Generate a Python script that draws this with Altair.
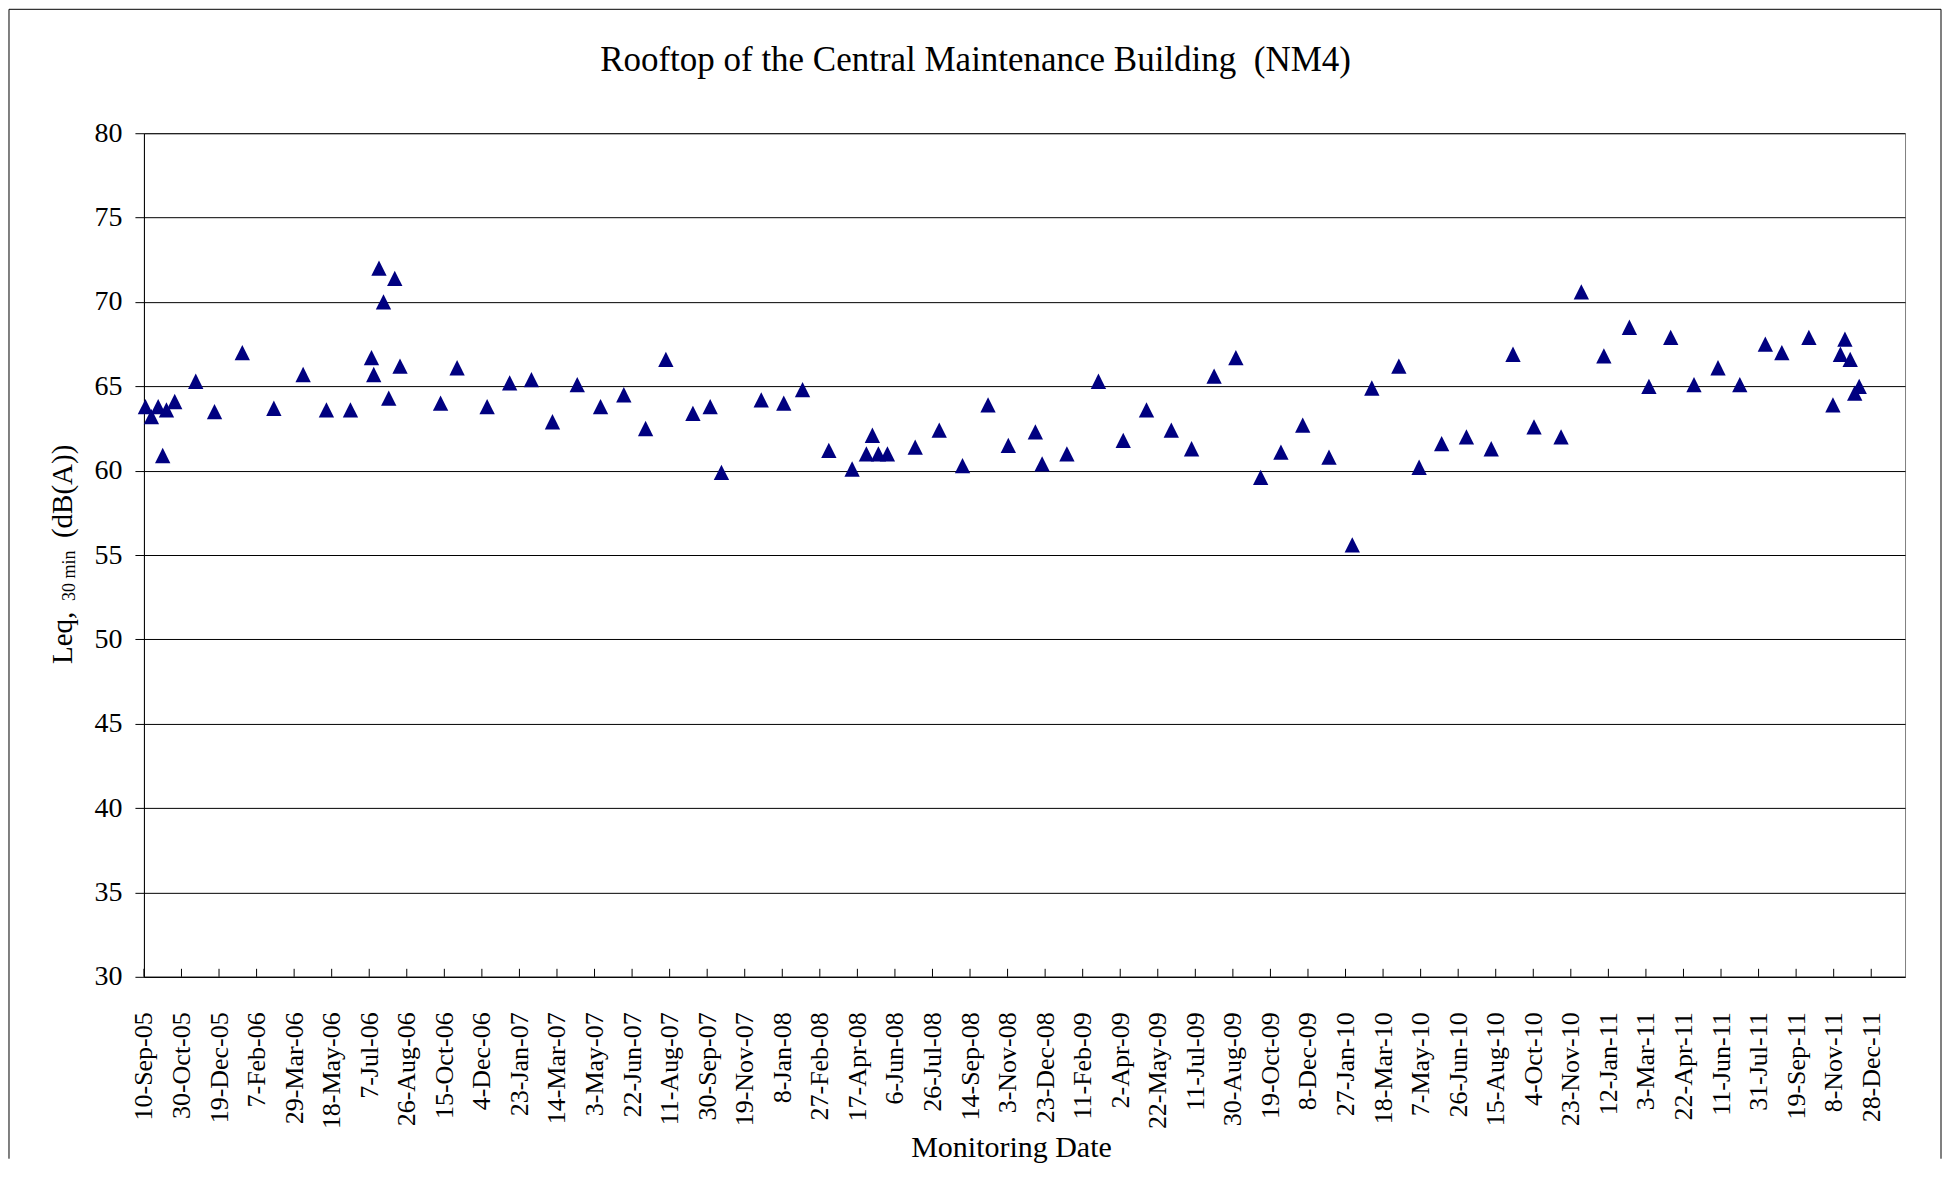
import altair as alt
import pandas as pd

# ---------------- data ----------------
dates = [
    "2005-09-12", "2005-09-20", "2005-09-29", "2005-10-05", "2005-10-10", "2005-10-21",
    "2005-11-18", "2005-12-13", "2006-01-19", "2006-03-02", "2006-04-10", "2006-05-11",
    "2006-06-12", "2006-07-10", "2006-07-13", "2006-07-20", "2006-07-26", "2006-08-02",
    "2006-08-10", "2006-08-17", "2006-10-10", "2006-11-01", "2006-12-11", "2007-01-10",
    "2007-02-08", "2007-03-08", "2007-04-10", "2007-05-11", "2007-06-11", "2007-07-10",
    "2007-08-06", "2007-09-11", "2007-10-04", "2007-10-19", "2007-12-11", "2008-01-10",
    "2008-02-04", "2008-03-10", "2008-04-10", "2008-04-29", "2008-05-07", "2008-05-15",
    "2008-05-27", "2008-07-03", "2008-08-04", "2008-09-04", "2008-10-08", "2008-11-04",
    "2008-12-10", "2008-12-19", "2009-01-21", "2009-03-04", "2009-04-06", "2009-05-07",
    "2009-06-09", "2009-07-06", "2009-08-05", "2009-09-03", "2009-10-06", "2009-11-02",
    "2009-12-01", "2010-01-05", "2010-02-05", "2010-03-03", "2010-04-08", "2010-05-05",
    "2010-06-04", "2010-07-07", "2010-08-09", "2010-09-07", "2010-10-05", "2010-11-10",
    "2010-12-07", "2011-01-06", "2011-02-09", "2011-03-07", "2011-04-05", "2011-05-06",
    "2011-06-07", "2011-07-06", "2011-08-09", "2011-08-31", "2011-10-06", "2011-11-07",
    "2011-11-17", "2011-11-23", "2011-11-30", "2011-12-06", "2011-12-12",
]
leq_db = [
    63.8, 63.2, 63.8, 60.9, 63.6, 64.1,
    65.3, 63.5, 67.0, 63.7, 65.7, 63.6,
    63.6, 66.7, 65.7, 72.0, 70.0, 64.3,
    71.4, 66.2, 64.0, 66.1, 63.8, 65.2,
    65.4, 62.9, 65.1, 63.8, 64.5, 62.5,
    66.6, 63.4, 63.8, 59.9, 64.2, 64.0,
    64.8, 61.2, 60.1, 61.0, 62.1, 61.0,
    61.0, 61.4, 62.4, 60.3, 63.9, 61.5,
    62.3, 60.4, 61.0, 65.3, 61.8, 63.6,
    62.4, 61.3, 65.6, 66.7, 59.6, 61.1,
    62.7, 60.8, 55.6, 64.9, 66.2, 60.2,
    61.6, 62.0, 61.3, 66.9, 62.6, 62.0,
    70.6, 66.8, 68.5, 65.0, 67.9, 65.1,
    66.1, 65.1, 67.5, 67.0, 67.9, 63.9,
    66.9, 67.8, 66.6, 64.6, 65.0,
]
tick_dates = [
    "2005-09-10", "2005-10-30", "2005-12-19", "2006-02-07", "2006-03-29", "2006-05-18",
    "2006-07-07", "2006-08-26", "2006-10-15", "2006-12-04", "2007-01-23", "2007-03-14",
    "2007-05-03", "2007-06-22", "2007-08-11", "2007-09-30", "2007-11-19", "2008-01-08",
    "2008-02-27", "2008-04-17", "2008-06-06", "2008-07-26", "2008-09-14", "2008-11-03",
    "2008-12-23", "2009-02-11", "2009-04-02", "2009-05-22", "2009-07-11", "2009-08-30",
    "2009-10-19", "2009-12-08", "2010-01-27", "2010-03-18", "2010-05-07", "2010-06-26",
    "2010-08-15", "2010-10-04", "2010-11-23", "2011-01-12", "2011-03-03", "2011-04-22",
    "2011-06-11", "2011-07-31", "2011-09-19", "2011-11-08", "2011-12-28",
]
y_ticks = [30, 35, 40, 45, 50, 55, 60, 65, 70, 75, 80]
x_domain = ["2005-09-10", "2012-02-11"]

title_text = "Rooftop of the Central Maintenance Building \u00a0(NM4)"
x_title = "Monitoring Date"
y_title_main = "Leq,"
y_title_sub = "30 min"
y_title_unit = "(dB(A))"

# ---------------- layout ----------------
W, H = 1762, 844
FONT = "Liberation Serif"
NAVY = "#000080"
TRIANGLE = "M0,-1L1,1L-1,1Z"


def ms(s):
    return int(pd.Timestamp(s, tz="UTC").value // 10**6)


df = pd.DataFrame({"date": dates, "leq": leq_db})
ticks_df = pd.DataFrame({"date": tick_dates})
xscale = alt.Scale(type="utc", domain=[ms(x_domain[0]), ms(x_domain[1])])

x_axis = alt.Axis(
    values=[ms(t) for t in tick_dates],
    labelExpr="utcFormat(datum.value, '%-d-%b-%y')",
    labelAngle=270,
    labelAlign="right",
    labelBaseline="middle",
    ticks=False,
    tickSize=0,
    labelPadding=35,
    labelOverlap=False,
    labelFlush=False,
    grid=False,
    title=None,
    domainColor="black",
    domainWidth=1,
    labelFont=FONT,
    labelFontSize=26,
    labelColor="black",
)

points = alt.Chart(df).mark_point(
    shape=TRIANGLE, filled=True, size=235, color=NAVY, opacity=1
).encode(
    x=alt.X("date:T", scale=xscale, axis=x_axis),
    y=alt.Y(
        "leq:Q",
        scale=alt.Scale(domain=[30, 80], nice=False, zero=False),
        axis=alt.Axis(
            values=y_ticks,
            title=None,
            grid=True,
            gridColor="black",
            gridWidth=1,
            gridOpacity=1,
            tickColor="black",
            tickSize=9,
            labelPadding=13,
            labelFlush=False,
            labelOverlap=False,
            domainColor="black",
            domainWidth=1,
            labelFont=FONT,
            labelFontSize=28,
            labelColor="black",
        ),
    ),
)

tick_rules = alt.Chart(ticks_df).mark_rule(color="black", strokeWidth=1).encode(
    x=alt.X("date:T", scale=xscale, axis=x_axis),
    y=alt.value(H - 8),
    y2=alt.value(H),
)


def one(txt):
    return pd.DataFrame({"t": [txt]})


def text_layer(txt, x, y, size, angle=0, align="center"):
    kw = dict(font=FONT, fontSize=size, color="black", align=align, baseline="alphabetic")
    if angle:
        kw["angle"] = angle
    return alt.Chart(one(txt)).mark_text(**kw).encode(
        text="t:N", x=alt.value(x), y=alt.value(y)
    )


title_layer = text_layer(title_text, 832, -62, 35)
xtitle_layer = text_layer(x_title, 868, 1024, 30)
ytitle_main = text_layer(y_title_main, -72, 531, 29, angle=270, align="left")
ytitle_sub = text_layer(y_title_sub, -69, 468, 18, angle=270, align="left")
ytitle_unit = text_layer(y_title_unit, -72, 405, 29, angle=270, align="left")

border_df = pd.DataFrame({"a": [0]})
border_top = alt.Chart(border_df).mark_rule(color="black", strokeWidth=1).encode(
    x=alt.value(-135), x2=alt.value(1798), y=alt.value(-124)
)
border_left = alt.Chart(border_df).mark_rule(color="black", strokeWidth=1).encode(
    x=alt.value(-135), y=alt.value(-124), y2=alt.value(1026)
)
border_right = alt.Chart(border_df).mark_rule(color="black", strokeWidth=1).encode(
    x=alt.value(1798), y=alt.value(-124), y2=alt.value(1026)
)

chart = alt.layer(
    points, tick_rules, title_layer, xtitle_layer,
    ytitle_main, ytitle_sub, ytitle_unit,
    border_top, border_left, border_right,
).properties(width=W, height=H, padding=0, background="white").configure_view(
    stroke="#808080", strokeWidth=1
)

chart.save("out.html", embed_options={"renderer": "svg", "actions": False})
